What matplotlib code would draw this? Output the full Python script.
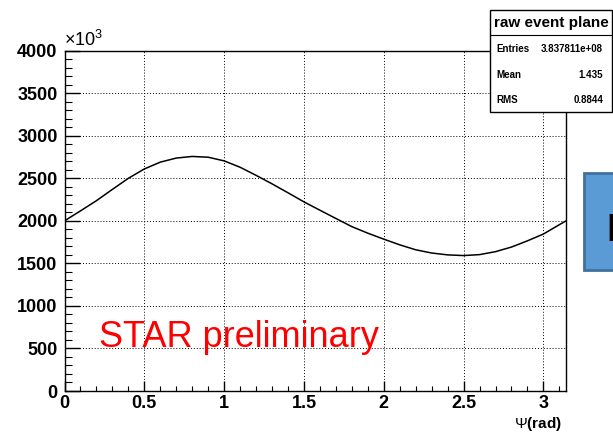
import numpy as np
from matplotlib import pyplot as plt
from matplotlib.ticker import MultipleLocator
import matplotlib.patches as patches

plt.rcParams['font.family'] = ['Liberation Sans', 'DejaVu Sans']
plt.rcParams['mathtext.fontset'] = 'custom'
plt.rcParams['mathtext.rm'] = 'Liberation Sans'
plt.rcParams['mathtext.bf'] = 'Liberation Sans:bold'

# raw event plane angle distribution (counts in units of 10^3)
psi = [0.0, 0.1, 0.2, 0.3, 0.4, 0.5, 0.6, 0.7, 0.8, 0.9, 1.0,
       1.1, 1.2, 1.3, 1.4, 1.5, 1.6, 1.7, 1.8, 1.9, 2.0,
       2.1, 2.2, 2.3, 2.4, 2.5, 2.6, 2.7, 2.8, 2.9, 3.0, 3.1, 3.1416]
counts = [2000, 2117, 2237, 2370, 2500, 2610, 2690, 2738, 2757, 2748, 2705,
          2630, 2535, 2435, 2330, 2223, 2125, 2028, 1932, 1855, 1785,
          1718, 1660, 1622, 1600, 1592, 1603, 1638, 1692, 1765, 1845, 1955, 2000]

stat_names = ['Entries', 'Mean', 'RMS']
stat_values = ['3.837811e+08', '1.435', '0.8844']

W, H = 613, 436
fig = plt.figure(figsize=(W / 100, H / 100), dpi=100)
ax = fig.add_axes([64.5 / W, 1 - 391 / H, (566 - 64.5) / W, (391 - 50.7) / H])

ax.plot(psi, counts, color='black', lw=1.1)

ax.set_xlim(0, np.pi)
ax.set_ylim(0, 4000)
ax.xaxis.set_major_locator(MultipleLocator(0.5))
ax.xaxis.set_minor_locator(MultipleLocator(0.1))
ax.yaxis.set_major_locator(MultipleLocator(500))
ax.yaxis.set_minor_locator(MultipleLocator(100))
ax.tick_params(axis='both', which='both', direction='in', top=False, right=False)
ax.tick_params(axis='y', which='major', length=11, width=1, pad=5, labelsize=13)
ax.tick_params(axis='y', which='minor', length=5, width=0.8)
ax.tick_params(axis='x', which='major', length=7, width=1, pad=3, labelsize=13)
ax.tick_params(axis='x', which='minor', length=3.6, width=0.8)
for lab in ax.get_xticklabels() + ax.get_yticklabels():
    lab.set_fontweight('bold')
ax.xaxis.set_major_formatter(lambda v, p: '%g' % v)
ax.yaxis.set_major_formatter(lambda v, p: '%d' % v)

ax.grid(True, which='major', color='black', linestyle=(0, (1, 2)), lw=0.7)
for s in ax.spines.values():
    s.set_linewidth(1)

ax.text(0.216, 512, 'STAR preliminary', color='#ff0000', fontsize=26,
        ha='left', va='baseline')

fig.text(64.5 / W, 1 - 46 / H, r'$\times10^{3}$', fontsize=13, ha='left', va='baseline')
fig.text(562 / W, 1 - 428 / H, r'$\Psi$(rad)', fontsize=11, fontweight='bold',
         ha='right', va='baseline')

# stats box
bx0, by0, bx1, by1 = 490, 10, 612, 112
fig.patches.append(patches.Rectangle((bx0 / W, 1 - by1 / H), (bx1 - bx0) / W, (by1 - by0) / H,
                                     transform=fig.transFigure, facecolor='white',
                                     edgecolor='black', lw=1, zorder=5))
fig.lines.append(plt.Line2D([bx0 / W, bx1 / W], [1 - 35 / H, 1 - 35 / H],
                            transform=fig.transFigure, color='black', lw=0.8, zorder=6))
fig.text((bx0 + bx1) / 2 / W, 1 - 23 / H, 'raw event plane', fontsize=11,
         fontweight='bold', ha='center', va='center', zorder=7)
for i, (name, val) in enumerate(zip(stat_names, stat_values)):
    yy = 1 - (49.5 + 25.3 * i) / H
    fig.text(496.5 / W, yy, name, fontsize=7, fontweight='bold', ha='left', va='center', zorder=7)
    fig.text(603 / W, yy, val, fontsize=7, fontweight='bold', ha='right', va='center', zorder=7)

# slide shape at the right edge
fig.patches.append(patches.Rectangle((584 / W, 1 - 270 / H), 40 / W, 97 / H,
                                     transform=fig.transFigure, facecolor='#5b9bd5',
                                     edgecolor='#41719c', lw=2, zorder=5))
fig.text(606 / W, 1 - 241 / H, 'E', fontsize=28, fontweight='bold', color='black',
         ha='left', va='baseline', zorder=7)

fig.savefig('out.png', dpi=100)
